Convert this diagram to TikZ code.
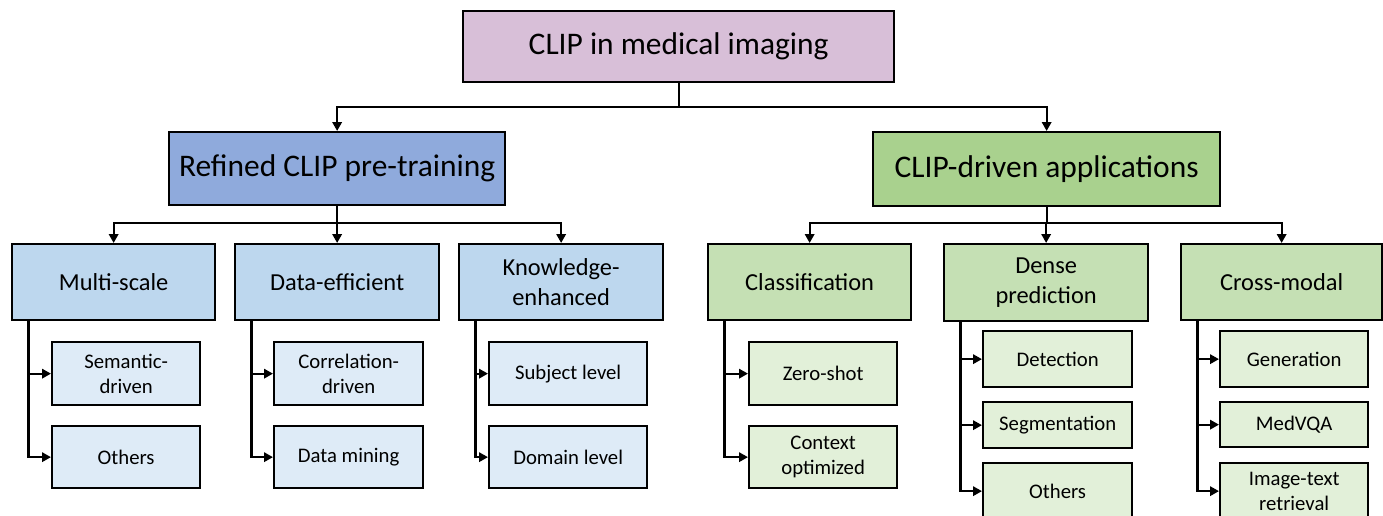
\documentclass[tikz,border=0pt]{standalone}
\usepackage{fontspec}
\setmainfont{Carlito}
\usetikzlibrary{arrows.meta}

\definecolor{rootfill}{HTML}{D8BFD8}
\definecolor{prefill}{HTML}{8FAADC}
\definecolor{appfill}{HTML}{A9D18E}
\definecolor{presub}{HTML}{BDD7EE}
\definecolor{preleaf}{HTML}{DEEBF7}
\definecolor{appsub}{HTML}{C5E0B4}
\definecolor{appleaf}{HTML}{E2F0D9}

\def\lone{\fontsize{17.9}{21}\selectfont}
\def\ltwo{\fontsize{13.9}{17}\selectfont}
\def\lthree{\fontsize{11.8}{14.2}\selectfont}

\begin{document}
\begin{tikzpicture}[x=0.02cm, y=-0.02cm,
    box/.style = {draw, line width=1.3pt, inner sep=0pt, align=center, anchor=north west},
    sz/.style 2 args = {minimum width=#1*0.02cm, minimum height=#2*0.02cm},
    line/.style = {line width=1.3pt},
    arr/.style = {line width=1.3pt, -{Triangle[length=5pt,width=5.2pt]}}]
  \useasboundingbox (0,0) rectangle (1383,515);

  % Top levels
  \node[box, sz={431}{71}, fill=rootfill, font=\lone] (root) at (462,10) {CLIP in medical imaging};
  \node[box, sz={336}{73}, fill=prefill, font=\lone] (pre) at (168,131) {Refined CLIP pre-training};
  \node[box, sz={347}{74}, fill=appfill, font=\lone] (app) at (872,131) {CLIP-driven applications};

  % Second level
  \node[box, sz={203}{76}, fill=presub, font=\ltwo] (ms) at (11,243) {Multi-scale};
  \node[box, sz={204}{76}, fill=presub, font=\ltwo] (de) at (234,243) {Data-efficient};
  \node[box, sz={204}{76}, fill=presub, font=\ltwo] (ke) at (458,243) {Knowledge-\\enhanced};
  \node[box, sz={203}{76}, fill=appsub, font=\ltwo] (cls) at (707,243) {Classification};
  \node[box, sz={204}{77}, fill=appsub, font=\ltwo] (dp) at (943,243) {Dense\\prediction};
  \node[box, sz={201}{76}, fill=appsub, font=\ltwo] (cm) at (1180,243) {Cross-modal};

  % Leaves
  \node[box, sz={148}{63}, fill=preleaf, font=\lthree] (sem) at (51,341) {Semantic-\\driven};
  \node[box, sz={148}{62}, fill=preleaf, font=\lthree] (othA) at (51,425) {Others};
  \node[box, sz={149}{63}, fill=preleaf, font=\lthree] (cor) at (273,341) {Correlation-\\driven};
  \node[box, sz={149}{62}, fill=preleaf, font=\lthree] (dm) at (273,425) {Data mining};
  \node[box, sz={158}{63}, fill=preleaf, font=\lthree] (sub) at (488,341) {Subject level};
  \node[box, sz={158}{62}, fill=preleaf, font=\lthree] (dom) at (488,425) {Domain level};
  \node[box, sz={148}{63}, fill=appleaf, font=\lthree] (zs) at (748,341) {Zero-shot};
  \node[box, sz={148}{62}, fill=appleaf, font=\lthree] (ctx) at (748,425) {Context\\optimized};
  \node[box, sz={149}{56}, fill=appleaf, font=\lthree] (det) at (982,330) {Detection};
  \node[box, sz={149}{46}, fill=appleaf, font=\lthree] (seg) at (982,401) {Segmentation};
  \node[box, sz={149}{56}, fill=appleaf, font=\lthree] (othB) at (982,462) {Others};
  \node[box, sz={148}{56}, fill=appleaf, font=\lthree] (gen) at (1219,330) {Generation};
  \node[box, sz={148}{45}, fill=appleaf, font=\lthree] (vqa) at (1219,401) {MedVQA};
  \node[box, sz={148}{56}, fill=appleaf, font=\lthree] (itr) at (1219,462) {Image-text\\retrieval};

  % Junctions
  \coordinate (j0) at (root.south |- 0,107);
  \coordinate (j1) at (pre.south |- 0,223);
  \coordinate (j2) at (app.south |- 0,223);

  \draw[line] (root.south) -- (j0);
  \draw[arr] (j0) -| (pre.north);
  \draw[arr] (j0) -| (app.north);

  \draw[line] (pre.south) -- (j1);
  \draw[line] (app.south) -- (j2);
  \foreach \j/\c in {j1/ms, j1/de, j1/ke, j2/cls, j2/dp, j2/cm}
    \draw[arr] (\j) -| (\c.north);

  % Side branches to the leaves
  \foreach \p/\c in {ms/sem, ms/othA, de/cor, de/dm, ke/sub, ke/dom,
                     cls/zs, cls/ctx, dp/det, dp/seg, dp/othB,
                     cm/gen, cm/vqa, cm/itr}
    \draw[arr] ([xshift=0.35cm]\p.south west) |- (\c.west);
\end{tikzpicture}
\end{document}
